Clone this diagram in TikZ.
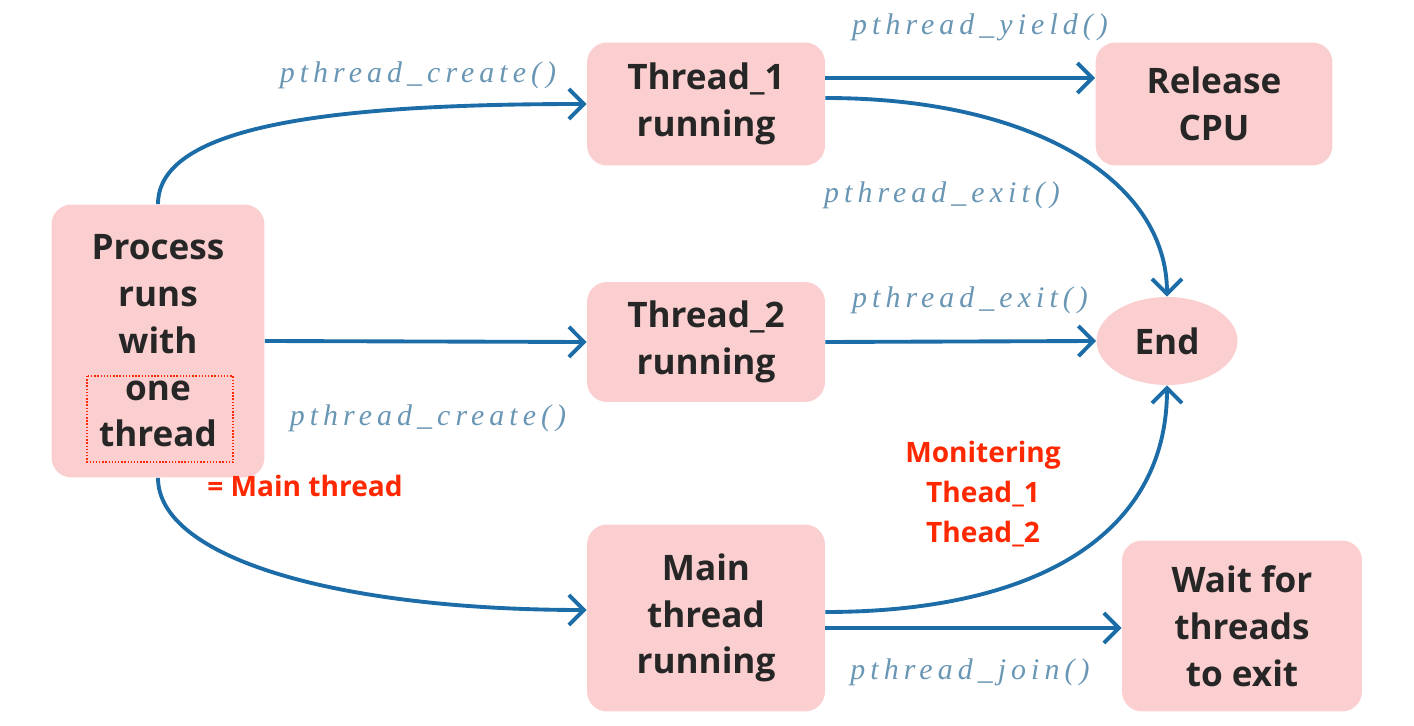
\documentclass[tikz,border=0pt]{standalone}
\usepackage{fontspec}
\setmainfont{Open Sans}
\newfontfamily\callfont[LetterSpace=17]{Liberation Serif}
\usetikzlibrary{arrows.meta,calc,shapes.geometric}
\definecolor{boxpink}{RGB}{251,206,207}
\definecolor{flowblue}{RGB}{28,108,168}
\definecolor{callblue}{RGB}{105,150,180}
\definecolor{notered}{RGB}{255,40,0}
\tikzset{
  state/.style={fill=boxpink, rounded corners=0.4cm, align=center, inner sep=0pt,
    text=black!85, font=\fontsize{20}{26.6}\selectfont\bfseries},
  call/.style={font=\callfont\fontsize{17}{19}\selectfont\itshape, text=callblue},
  note/.style={font=\fontsize{16}{23}\selectfont\bfseries, text=notered, align=center},
  flow/.style={draw=flowblue, line width=2.2pt, -{Straight Barb[length=3mm,width=6mm]}}
}
\begin{document}
\begin{tikzpicture}[x=0.02cm,y=-0.02cm]
      \useasboundingbox (0,0) rectangle (1414,726);
      \draw
        (158,341) node[state, minimum width=4.26cm, minimum height=5.46cm] (proc){Process\\runs\\with\\one\\thread}
        (706,104) node[state, minimum width=4.76cm, minimum height=2.46cm] (t1){Thread\_1\\running}
        (1214,104) node[state, minimum width=4.74cm, minimum height=2.46cm] (rel){Release\\CPU}
        (706,342) node[state, minimum width=4.76cm, minimum height=2.4cm] (t2){Thread\_2\\running}
        (1167,341) node[state, ellipse, minimum width=2.82cm, minimum height=1.76cm] (end){End}
        (706,618) node[state, minimum width=4.76cm, minimum height=3.74cm] (main){Main\\thread\\running}
        (1242,626) node[state, minimum width=4.8cm, minimum height=3.42cm] (wait){Wait for\\threads\\to exit};
      \draw
        (418,75) node[call] (c1){pthread\_create()}
        (980,27) node[call] (y1){pthread\_yield()}
        (942,195) node[call] (e1){pthread\_exit()}
        (970,300) node[call] (e2){pthread\_exit()}
        (428,418) node[call] (c2){pthread\_create()}
        (970,672) node[call] (j1){pthread\_join()};
      \draw
        (305,486) node[note] (mt){= Main thread}
        (983,494) node[note] (mon){Monitering\\Thead\_1\\Thead\_2};
      \draw[notered, densely dotted, line width=0.8pt] (87,376) rectangle (233,462);
      \begin{scope}[flow]
        \draw (proc.north) .. controls +(0,-80) and +(-250,0) .. (t1.west);
        \draw (proc.east) -- (t2.west);
        \draw (proc.south) .. controls +(0,80) and +(-250,0) .. ($(main.west)+(0,-8)$);
        \draw ($(t1.east)+(0,-26)$) -- ($(rel.west)+(0,-26)$);
        \draw ($(t1.east)+(0,-6)$) .. controls +(210,0) and +(0,-115) .. (end.north);
        \draw (t2.east) -- (end.west);
        \draw ($(main.east)+(0,-6)$) .. controls +(210,0) and +(0,150) .. (end.south);
        \draw ($(main.east)+(0,10)$) -- ($(wait.west)+(0,2)$);
      \end{scope}
    \end{tikzpicture}
\end{document}
